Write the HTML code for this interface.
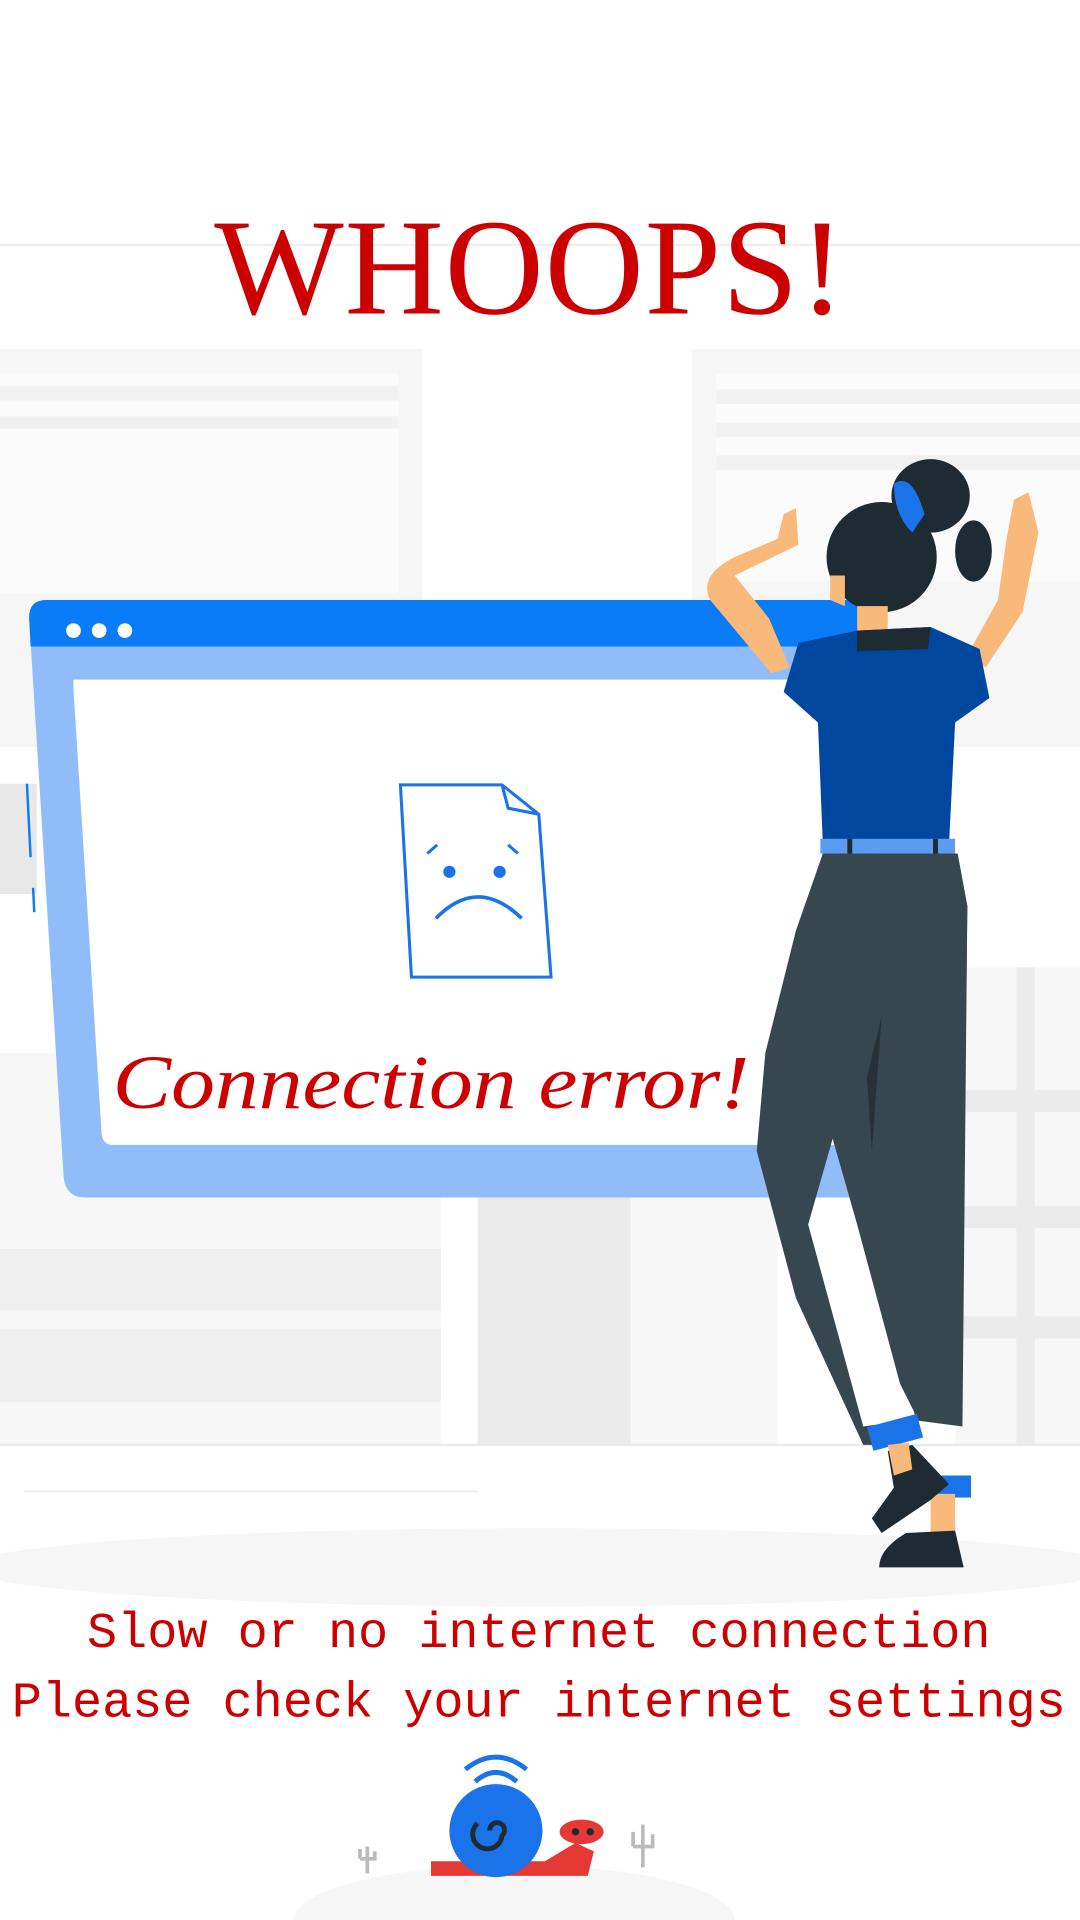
<!DOCTYPE html>
<html><head><meta charset="utf-8"><style>
html,body{margin:0;padding:0;background:#fff;width:1080px;height:1920px;overflow:hidden}
svg{display:block}
</style></head><body>
<svg width="1080" height="1920" viewBox="0 0 882 1568" xmlns="http://www.w3.org/2000/svg">
<rect width="882" height="1568" fill="#fff"/>
<!-- background building -->
<line x1="0" y1="200" x2="882" y2="200" stroke="#f0f0f0" stroke-width="2"/>
<rect x="0" y="285" width="345" height="325" fill="#f6f6f6"/>
<rect x="0" y="305" width="325" height="180" fill="#fbfbfb"/>
<rect x="0" y="315" width="325" height="12" fill="#f1f1f1"/>
<rect x="0" y="340" width="325" height="10" fill="#f1f1f1"/>
<rect x="565" y="285" width="317" height="325" fill="#f6f6f6"/>
<rect x="585" y="305" width="297" height="170" fill="#fbfbfb"/>
<rect x="585" y="318" width="297" height="12" fill="#f1f1f1"/>
<rect x="585" y="345" width="297" height="12" fill="#f1f1f1"/>
<rect x="585" y="372" width="297" height="12" fill="#f1f1f1"/>
<rect x="0" y="640" width="30" height="90" fill="#e8e8e8"/>
<rect x="0" y="860" width="360" height="320" fill="#f7f7f7"/>
<rect x="0" y="1020" width="360" height="50" fill="#efefef"/>
<rect x="0" y="1085" width="360" height="60" fill="#efefef"/>
<rect x="390" y="975" width="125" height="205" fill="#ebebeb"/>
<rect x="515" y="975" width="120" height="205" fill="#f7f7f7"/>
<rect x="780" y="790" width="102" height="390" fill="#f7f7f7"/>
<rect x="830" y="790" width="15" height="390" fill="#ebebeb"/>
<rect x="780" y="890" width="102" height="18" fill="#ebebeb"/>
<rect x="780" y="985" width="102" height="18" fill="#ebebeb"/>
<rect x="780" y="1075" width="102" height="18" fill="#ebebeb"/>
<line x1="0" y1="1180" x2="882" y2="1180" stroke="#ebebeb" stroke-width="2"/>
<line x1="20" y1="1218" x2="390" y2="1218" stroke="#f0f0f0" stroke-width="2"/>
<ellipse cx="441" cy="1280" rx="470" ry="32" fill="#f6f6f6"/>
<!-- title -->
<text x="175" y="256" font-family="Liberation Serif, serif" font-size="112" fill="#cc0000" textLength="515" lengthAdjust="spacing">WHOOPS!</text>
<!-- browser -->
<path d="M38 490 L712 490 L722 978 L70 978 Q54 978 52 962 L24 508 Q22 490 38 490 Z" fill="#90bdfa"/>
<path d="M38 490 L712 490 L713 528 L25 528 L24 508 Q22 490 38 490 Z" fill="#0a7cf5"/>
<path d="M60 555 L700 555 L702 935 L92 935 Q84 935 83 926 L60 563 Z" fill="#fff"/>
<circle cx="60" cy="515" r="6" fill="#fff"/><circle cx="81" cy="515" r="6" fill="#fff"/><circle cx="102" cy="515" r="6" fill="#fff"/>
<line x1="22" y1="640" x2="25" y2="700" stroke="#0a7cf5" stroke-width="2"/>
<line x1="27" y1="725" x2="28" y2="745" stroke="#0a7cf5" stroke-width="2"/>
<!-- sad doc -->
<path d="M327 641 L410 641 L440 665 L450 798 L336 798 Z" fill="#fff" stroke="#1a73e8" stroke-width="2.5"/>
<path d="M410 641 L415 660 L440 665" fill="none" stroke="#1a73e8" stroke-width="2.5"/>
<circle cx="367" cy="712" r="5" fill="#1a73e8"/><circle cx="408" cy="712" r="5" fill="#1a73e8"/>
<line x1="349" y1="697" x2="357" y2="690" stroke="#1a73e8" stroke-width="2.5"/>
<line x1="415" y1="690" x2="423" y2="697" stroke="#1a73e8" stroke-width="2.5"/>
<path d="M356 750 Q390 715 426 750" fill="none" stroke="#1a73e8" stroke-width="3"/>
<text x="92" y="905" font-family="Liberation Serif, serif" font-style="italic" font-size="62" fill="#cc0000" textLength="520" lengthAdjust="spacingAndGlyphs">Connection error!</text>
<!-- woman -->
<path d="M640 420 L650 415 L652 445 L600 470 L628 505 L645 545 L630 550 L580 490 Q570 470 600 455 L635 440 Z" fill="#f9b97a"/>
<path d="M828 408 L840 402 L848 435 L835 500 L805 545 L790 535 L815 490 L822 440 Z" fill="#f9b97a"/>
<ellipse cx="720" cy="455" rx="45" ry="45" fill="#1e2b33"/>
<ellipse cx="760" cy="405" rx="32" ry="30" fill="#1e2b33"/>
<ellipse cx="795" cy="450" rx="15" ry="25" fill="#1e2b33"/>
<path d="M730 395 Q745 385 755 420 L745 435 Q730 420 730 395 Z" fill="#1a73e8"/>
<path d="M678 470 L690 470 L690 495 L678 490 Z" fill="#f9b97a"/>
<rect x="700" y="495" width="25" height="25" fill="#f9b97a"/>
<path d="M700 515 L760 512 L800 530 L808 570 L780 590 L775 690 L672 690 L668 590 L640 565 L652 525 Z" fill="#0047a0"/>
<path d="M700 515 L760 512 L758 530 L700 532 Z" fill="#1e2b33"/>
<rect x="670" y="685" width="110" height="12" fill="#5b9cf0"/>
<rect x="692" y="685" width="4" height="12" fill="#1e2b33"/><rect x="762" y="685" width="4" height="12" fill="#1e2b33"/>
<path d="M672 697 L782 697 L790 740 L785 1160 L750 1160 L735 1130 L700 1000 L680 930 L660 1000 L705 1165 L740 1160 L735 1180 L705 1180 L650 1060 L618 940 L625 860 L650 760 Z" fill="#37474f"/>
<path d="M672 697 L782 697 L790 740 L786 1165 L748 1160 L735 1100 L712 940 L720 830 L690 800 Z" fill="#37474f"/>
<path d="M712 940 L720 830 L708 880 Z" fill="#263238"/>
<rect x="710" y="1160" width="42" height="20" fill="#1a73e8" transform="rotate(-15 730 1170)"/>
<rect x="748" y="1205" width="45" height="18" fill="#1a73e8"/>
<rect x="760" y="1220" width="20" height="35" fill="#f9b97a"/>
<path d="M725 1185 L745 1180 L775 1212 L760 1225 L720 1252 L712 1240 L730 1215 Z" fill="#1e2b33"/>
<path d="M725 1180 L742 1178 L745 1200 L730 1205 Z" fill="#f9b97a"/>
<path d="M740 1252 L780 1250 L787 1280 L718 1280 Q718 1265 740 1252 Z" fill="#1e2b33"/>
<!-- bottom text -->
<text x="440" y="1345" text-anchor="middle" font-family="Liberation Mono, monospace" font-size="41" fill="#cc0000">Slow or no internet connection</text>
<text x="440" y="1402" text-anchor="middle" font-family="Liberation Mono, monospace" font-size="41" fill="#cc0000">Please check your internet settings</text>
<!-- snail -->
<ellipse cx="420" cy="1568" rx="180" ry="45" fill="#f6f6f6"/>
<path d="M380 1445 Q405 1425 430 1445" fill="none" stroke="#1a73e8" stroke-width="4"/>
<path d="M388 1455 Q405 1440 422 1455" fill="none" stroke="#1a73e8" stroke-width="4"/>
<circle cx="405" cy="1462" r="4" fill="#1a73e8"/>
<path d="M352 1520 L445 1520 L470 1505 L485 1512 L480 1532 L352 1532 Z" fill="#e53935"/>
<circle cx="405" cy="1495" r="38" fill="#1a73e8"/>
<path d="M400 1495 a6 6 0 1 1 10 4 a12 12 0 1 1 -20 -10" fill="none" stroke="#1e2b33" stroke-width="4"/>
<ellipse cx="475" cy="1496" rx="18" ry="10" fill="#e53935"/>
<circle cx="470" cy="1496" r="3" fill="#1e2b33"/><circle cx="482" cy="1496" r="3" fill="#1e2b33"/>
<path d="M300 1530 L300 1508 M294 1518 L294 1510 M294 1518 L306 1518 L306 1512" fill="none" stroke="#bbb" stroke-width="3"/>
<path d="M525 1525 L525 1490 M517 1508 L517 1496 M517 1508 L533 1508 L533 1498" fill="none" stroke="#bbb" stroke-width="3"/>
</svg>
</body></html>
